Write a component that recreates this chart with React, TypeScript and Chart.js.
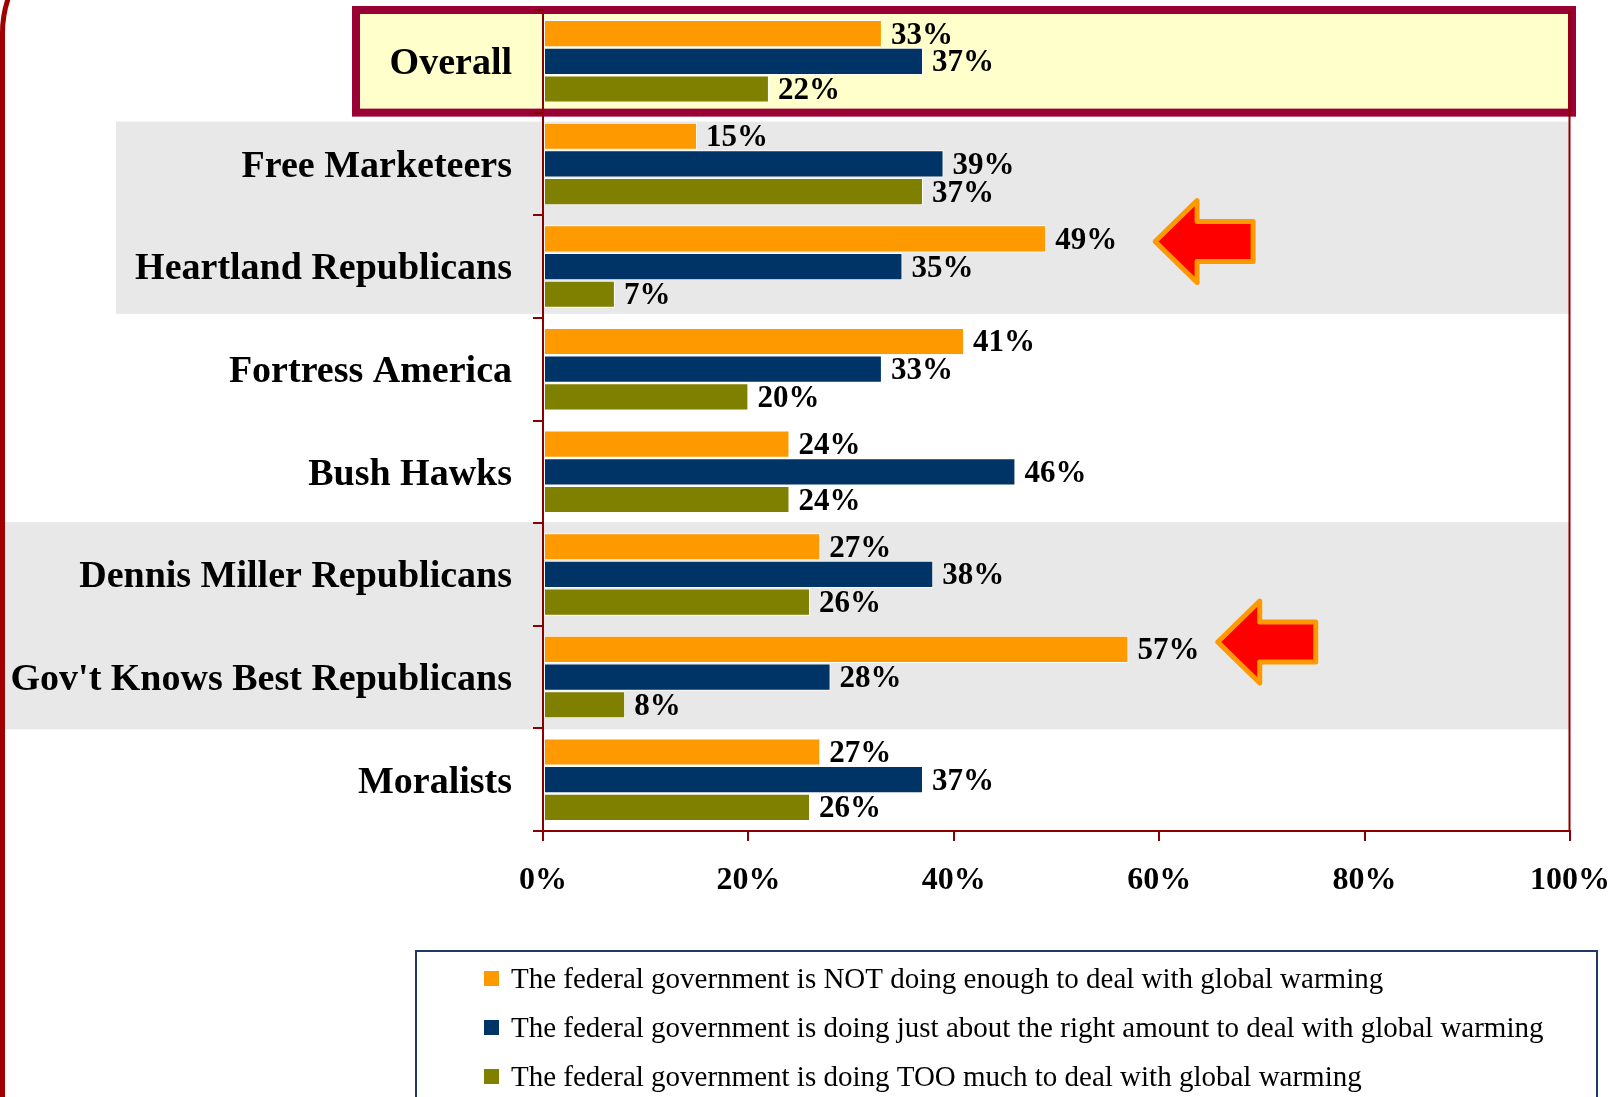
import React, { useEffect, useRef } from "react";
import { Chart, registerables } from "chart.js";

Chart.register(...registerables);

const categories = [
  "Overall",
  "Free Marketeers",
  "Heartland Republicans",
  "Fortress America",
  "Bush Hawks",
  "Dennis Miller Republicans",
  "Gov't Knows Best Republicans",
  "Moralists",
];
const notEnough = [33, 15, 49, 41, 24, 27, 57, 27];
const rightAmount = [37, 39, 35, 33, 46, 38, 28, 37];
const tooMuch = [22, 37, 7, 20, 24, 26, 8, 26];
const seriesLabels = [
  "The federal government is NOT doing enough to deal with global warming",
  "The federal government is doing just about the right amount to deal with global warming",
  "The federal government is doing TOO much to deal with global warming",
];
const seriesColors = ["#FF9900", "#003366", "#808000"];
const xTickValues = [0, 20, 40, 60, 80, 100];
// shaded category groups (first index, last index)
const shadedGroups = [
  [1, 2],
  [5, 6],
];
const highlightCategory = "Overall";
// arrow annotations: category and x value of tip
const arrowCategories = ["Heartland Republicans", "Gov't Knows Best Republicans"];
const arrowTipValues = [59.6, 65.7];

const AXIS = "#8B0000";
const SERIF = '"Liberation Serif", "Times New Roman", Times, serif';

export default function App() {
  const ref = useRef<HTMLCanvasElement | null>(null);

  useEffect(() => {
    const canvas = ref.current;
    if (!canvas) return;

    const decorPlugin = {
      id: "decor",
      beforeDraw(chart: any) {
        const { ctx, chartArea, scales } = chart;
        const y = scales.y;
        const half = (y.getPixelForValue(1) - y.getPixelForValue(0)) / 2;
        ctx.save();
        ctx.fillStyle = "#FFFFFF";
        ctx.fillRect(0, 0, chart.width, chart.height);
        // shaded bands
        ctx.fillStyle = "#E8E8E8";
        shadedGroups.forEach((g, gi) => {
          const top = y.getPixelForValue(g[0]) - half + (gi === 0 ? 9 : -1);
          const bottom = y.getPixelForValue(g[1]) + half - (gi === 0 ? 4 : -1);
          const left = gi === 0 ? 116 : 4;
          ctx.fillRect(left, top, chartArea.right - left, bottom - top);
        });
        // highlight box for overall
        const hi = categories.indexOf(highlightCategory);
        const cy = y.getPixelForValue(hi);
        const bt = cy - half;
        const bb = cy + half;
        ctx.fillStyle = "#FFFFCC";
        ctx.fillRect(356, bt, chartArea.right + 2 - 356, bb - bt);
        ctx.strokeStyle = "#990033";
        ctx.lineWidth = 8;
        ctx.strokeRect(356, bt, chartArea.right + 2 - 356, bb - bt);
        // slide frame on the left
        ctx.strokeStyle = "#A00000";
        ctx.lineWidth = 5;
        ctx.beginPath();
        ctx.moveTo(2.5, chart.height + 5);
        ctx.lineTo(2.5, 33);
        ctx.arc(110.5, 33, 108, Math.PI, 1.5 * Math.PI);
        ctx.stroke();
        ctx.restore();
      },
      afterDatasetsDraw(chart: any) {
        const { ctx, scales } = chart;
        ctx.save();
        ctx.font = `bold 31px ${SERIF}`;
        ctx.fillStyle = "#000";
        ctx.textAlign = "left";
        ctx.textBaseline = "middle";
        chart.data.datasets.forEach((ds: any, di: number) => {
          const meta = chart.getDatasetMeta(di);
          meta.data.forEach((el: any, i: number) => {
            ctx.fillText(`${ds.data[i]}%`, el.x + 9, el.y + 2);
          });
        });
        // arrows
        const y = scales.y;
        const x = scales.x;
        arrowCategories.forEach((cat, ai) => {
          const idx = categories.indexOf(cat);
          const tipX = x.getPixelForValue(arrowTipValues[ai]);
          const tipY = y.getPixelForValue(idx) + (ai === 0 ? -25 : -35);
          const head = 42;
          const hh = 41;
          const sh = 20;
          const len = 98;
          ctx.beginPath();
          ctx.moveTo(tipX, tipY);
          ctx.lineTo(tipX + head, tipY - hh);
          ctx.lineTo(tipX + head, tipY - sh);
          ctx.lineTo(tipX + len, tipY - sh);
          ctx.lineTo(tipX + len, tipY + sh);
          ctx.lineTo(tipX + head, tipY + sh);
          ctx.lineTo(tipX + head, tipY + hh);
          ctx.closePath();
          ctx.fillStyle = "#FF0000";
          ctx.fill();
          ctx.lineJoin = "round";
          ctx.lineWidth = 5;
          ctx.strokeStyle = "#FF9900";
          ctx.stroke();
        });
        ctx.restore();
      },
      afterDraw(chart: any) {
        const { ctx, chartArea } = chart;
        ctx.save();
        // right frame line of plot area
        ctx.strokeStyle = AXIS;
        ctx.lineWidth = 2;
        ctx.beginPath();
        ctx.moveTo(chartArea.right - 0.5, chartArea.top);
        ctx.lineTo(chartArea.right - 0.5, chartArea.bottom);
        ctx.stroke();
        // legend
        const lx = 416;
        const ly = 951;
        ctx.strokeStyle = "#1F3864";
        ctx.lineWidth = 2;
        ctx.strokeRect(lx, ly, 1181, 200);
        ctx.font = `29px ${SERIF}`;
        ctx.textAlign = "left";
        ctx.textBaseline = "middle";
        chart.data.datasets.forEach((ds: any, i: number) => {
          const ry = 979 + i * 49;
          ctx.fillStyle = ds.backgroundColor;
          ctx.fillRect(484, ry - 8, 15, 15);
          ctx.fillStyle = "#000";
          ctx.fillText(ds.label, 511, ry + 1);
        });
        ctx.restore();
      },
    };

    const chart = new Chart(canvas, {
      type: "bar",
      data: {
        labels: categories,
        datasets: [notEnough, rightAmount, tooMuch].map((d, i) => ({
          label: seriesLabels[i],
          data: d,
          backgroundColor: seriesColors[i],
          borderColor: "#FFFFFF",
          borderWidth: 1,
          borderSkipped: false,
          categoryPercentage: 0.81,
          barPercentage: 0.98,
        })),
      },
      options: {
        animation: false,
        responsive: false,
        devicePixelRatio: 1,
        indexAxis: "y",
        layout: { padding: { left: 0, top: 10, right: 51, bottom: 166 } },
        plugins: { legend: { display: false }, tooltip: { enabled: false } },
        scales: {
          x: {
            min: 0,
            max: 100,
            afterBuildTicks: (s: any) => {
              s.ticks = xTickValues.map((v) => ({ value: v }));
            },
            ticks: {
              callback: (v: any) => `${v}%`,
              font: { family: SERIF, size: 32, weight: "bold", lineHeight: 1.2 },
              color: "#000",
              padding: 21,
              maxRotation: 0,
            },
            grid: {
              drawOnChartArea: false,
              drawTicks: true,
              tickLength: 10,
              color: AXIS,
              lineWidth: 2,
            },
            border: { display: true, color: AXIS, width: 2 },
            afterFit: (s: any) => {
              s.height = 100;
              s.paddingLeft = 0;
              s.paddingRight = 0;
            },
          },
          y: {
            ticks: {
              font: { family: SERIF, size: 38, weight: "bold", lineHeight: 1.2 },
              color: "#000",
              padding: 21,
              labelOffset: 3,
              autoSkip: false,
            },
            grid: {
              drawOnChartArea: false,
              drawTicks: true,
              tickLength: 10,
              color: AXIS,
              lineWidth: 2,
              offset: true,
            },
            border: { display: true, color: AXIS, width: 2 },
            afterFit: (s: any) => {
              s.width = 543;
              s.paddingTop = 0;
              s.paddingBottom = 0;
            },
          },
        },
      } as any,
      plugins: [decorPlugin],
    });

    return () => chart.destroy();
  }, []);

  return (
    <div style={{ position: "fixed", left: 0, top: 0, width: 1621, height: 1097, overflow: "hidden", background: "#fff" }}>
      <canvas ref={ref} width={1621} height={1097} style={{ display: "block", width: 1621, height: 1097 }} />
    </div>
  );
}
